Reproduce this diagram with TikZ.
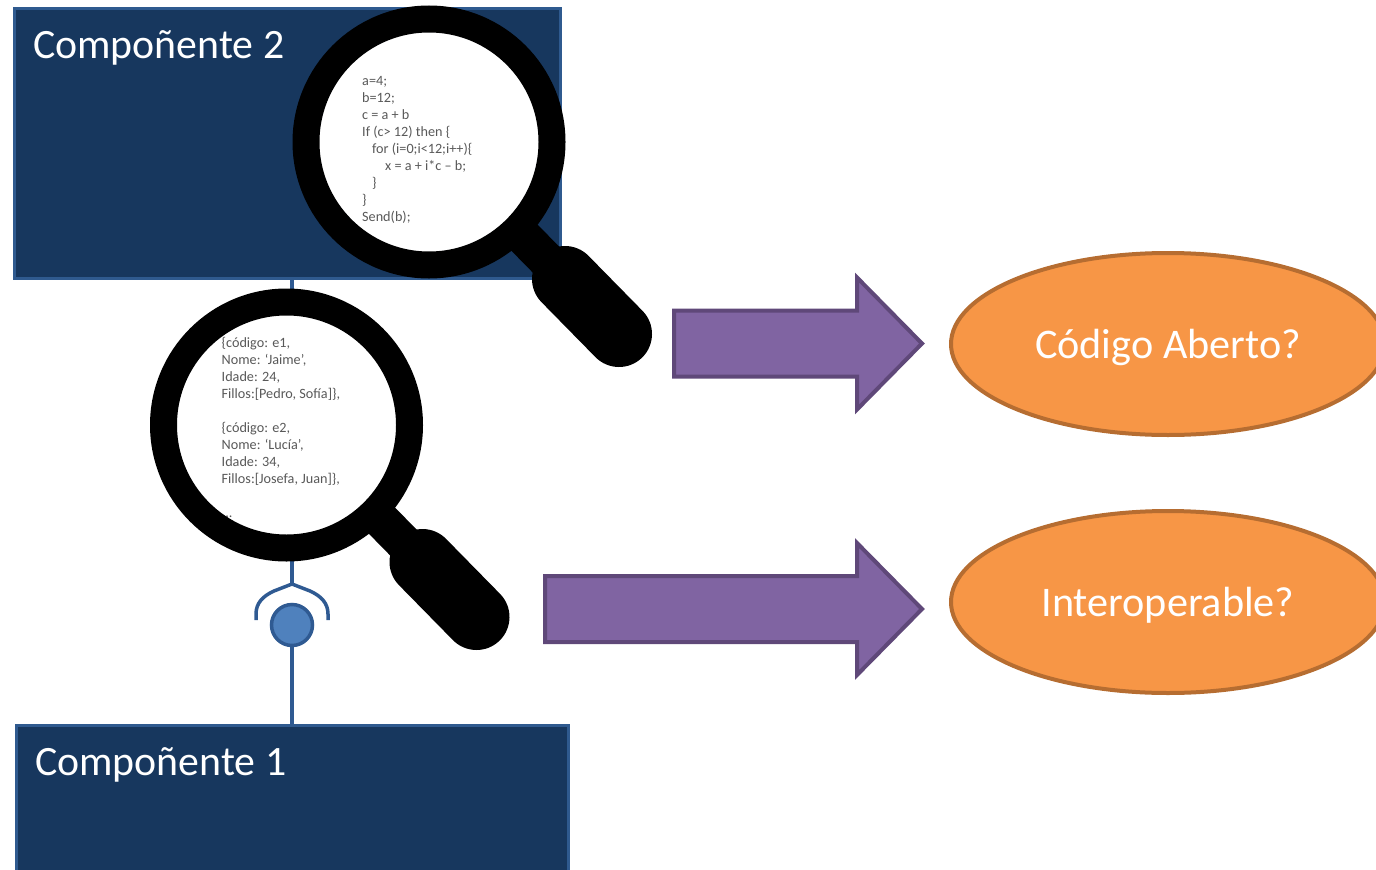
\documentclass[tikz,border=0pt]{standalone}
\usepackage{fontspec}
\usepackage{tikz}
\usetikzlibrary{calc,shapes.geometric}
\setmainfont{Carlito}
\definecolor{boxfill}{HTML}{17375E}
\definecolor{boxline}{HTML}{2F5A8F}
\definecolor{wireblue}{HTML}{2F5A92}
\definecolor{ballfill}{HTML}{4F81BD}
\definecolor{arrowfill}{HTML}{8064A2}
\definecolor{arrowline}{HTML}{5F4879}
\definecolor{ovalfill}{HTML}{F79646}
\definecolor{ovalline}{HTML}{B66D31}
\definecolor{codegray}{HTML}{595959}

\begin{document}
\begin{tikzpicture}[x=1pt, y=-1pt,
    compbox/.style = {draw=boxline, fill=boxfill, line width=3pt, minimum width=#1, inner sep=0pt},
    oval/.style = {draw=ovalline, fill=ovalfill, ellipse, line width=4pt, minimum width=434pt, minimum height=182pt,
                   text=white, text depth=0pt, font=\fontsize{42.2}{42}\selectfont},
    title/.style = {text=white, anchor=west, inner sep=0pt, font=\fontsize{41.8}{42}\selectfont},
    wire/.style = {draw=wireblue, line width=3.5pt},
    fat/.style = {draw=arrowline, fill=arrowfill, line width=4pt, miter limit=10},
    code/.style = {text=codegray, anchor=north west, inner sep=0pt, align=left,
                   font=\fontsize{14.2}{17}\selectfont}]
      \useasboundingbox (0,0) rectangle (1376,870);
      \clip (0,0) rectangle (1376,870);

      \node [compbox=546pt, minimum height=270pt] (comp2) at (287.5,143) {};
      \node [compbox=552pt, minimum height=270pt] (comp1) at (292.5,860.5) {};
      \node [title] (comp2text) at (33,47.5) {Compoñente 2};
      \node [title] (comp1text) at (35,764.5) {Compoñente 1};

      \node [circle, draw=wireblue, fill=ballfill, line width=3.5pt, minimum size=41pt, inner sep=0pt] (ball) at (292,625) {};
      \coordinate (socket) at (292,584);
      \draw [wire] (ball |- comp2.south) -- (socket);
      \draw [wire] (ball.south) -- (ball |- comp1.north);
      \draw [wire] (256,620) -- (256,614) .. controls (256,603) and (263,596) .. (274,591) -- (socket)
                   -- (310,591) .. controls (321,596) and (328,603) .. (328,614) -- (328,620);

      \foreach \cx/\cy in {429/142, 286.5/425}
               {
                 \fill [white] (\cx,\cy) circle (110);
               }

      \node [code] (program) at (362,76) {a=4;\\b=12;\\c = a + b\\If (c> 12) then \{\\
        \hspace*{10pt}for (i=0;i<12;i++)\{\\\hspace*{23pt}x = a + i*c -- b;\\\hspace*{10pt}\}\\\}\\Send(b);};
      \node [code] (records) at (221.5,337.5) {\{código: e1,\\Nome: ‘Jaime’,\\Idade: 24,\\Fillos:[Pedro, Sofía]\},\\[17pt]
        \{código: e2,\\Nome: ‘Lucía’,\\Idade: 34,\\Fillos:[Josefa, Juan]\},\\[17pt]...};

      \foreach \cx/\cy in {429/142, 286.5/425}
               {
                 \draw [line width=27pt] (\cx,\cy) circle (123);
                 \draw [line width=37pt] ($ (\cx,\cy) + (85,85) $) -- ($ (\cx,\cy) + (136,137) $);
                 \draw [line width=66pt, line cap=round] ($ (\cx,\cy) + (136,137) $) -- ($ (\cx,\cy) + (190,192) $);
               }

      % arrows
      \foreach \tailx/\midy in {674/343.5, 545/609}
               {
                 \draw [fat] (\tailx,\midy-33) -- (857,\midy-33) -- (857,\midy-66) -- (922,\midy)
                   -- (857,\midy+66) -- (857,\midy+33) -- (\tailx,\midy+33) -- cycle;
               }

      \node [oval] (open) at (1168,344) {Código Aberto?};
      \node [oval] (interop) at (1168,602) {Interoperable?};
\end{tikzpicture}
\end{document}
